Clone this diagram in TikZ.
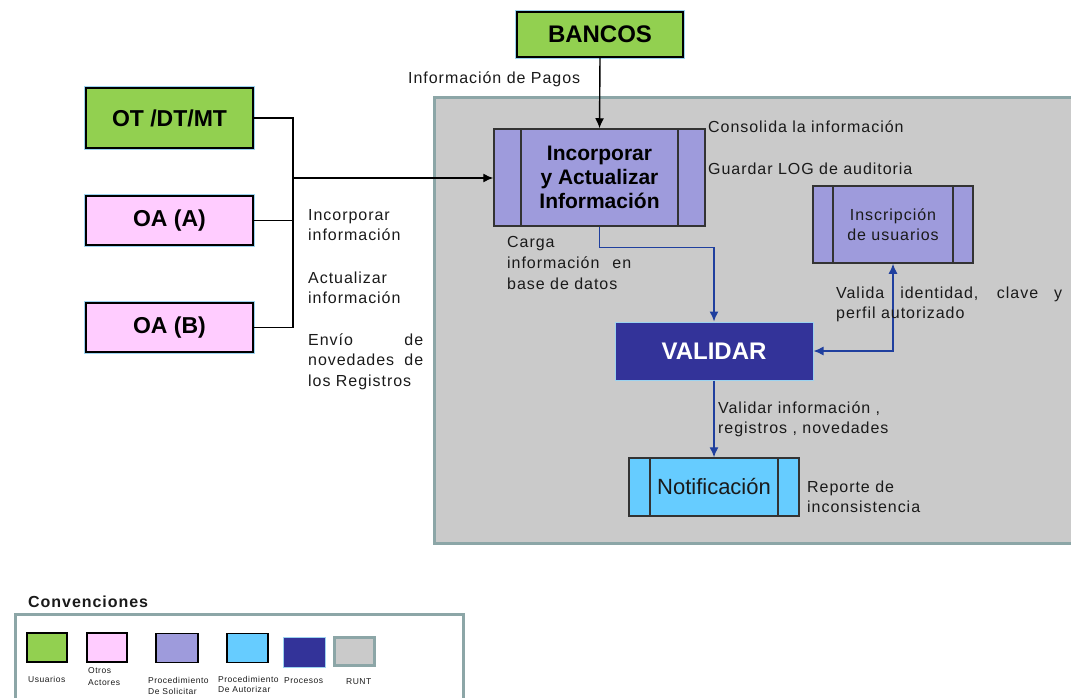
\documentclass[tikz,border=0pt]{standalone}
\usepackage{fontspec}
\setmainfont{Liberation Sans}[LetterSpace=6]
\newfontfamily\boxfont{Liberation Sans}
\usetikzlibrary{arrows.meta}

\definecolor{usrgreen}{HTML}{92D050}
\definecolor{actpink}{HTML}{FFCCFF}
\definecolor{solpurple}{HTML}{9E9BDC}
\definecolor{autblue}{HTML}{66CCFF}
\definecolor{procblue}{HTML}{333399}
\definecolor{runtgrey}{HTML}{CACACA}
\definecolor{runtedge}{HTML}{8CA6A7}
\definecolor{flowblue}{HTML}{1F3F9E}
\definecolor{haloblue}{HTML}{9CD3F0}
\definecolor{inktext}{HTML}{1A1A1A}

\tikzset{
  actor/.style={draw=black, line width=1.5pt, inner sep=0pt,
    preaction={draw=haloblue, line width=3.5pt},
    font=\boxfont\bfseries\fontsize{23}{26}\selectfont},
  procbox/.style={draw=black!80, line width=1.5pt, inner sep=0pt,
    path picture={\draw[line width=1.5pt, black!80]
      ([xshift=#1]path picture bounding box.north west) -- ([xshift=#1]path picture bounding box.south west)
      ([xshift=-#1]path picture bounding box.north east) -- ([xshift=-#1]path picture bounding box.south east);}},
  txt/.style={inner sep=0pt, anchor=base west, text=inktext,
    font=\fontsize{16}{21}\selectfont},
  tinytxt/.style={inner sep=0pt, anchor=base west, text=inktext,
    font=\fontsize{8.5}{10}\selectfont},
  flowblk/.style={draw=black, line width=1.4pt},
  flowarrow/.style={draw=flowblue, line width=1.4pt},
  tipblk/.style={-{Latex[length=10pt,width=9pt]}},
  tipblue/.style={-{Latex[length=10pt,width=9pt]}},
  swatch/.style={draw=black, line width=1.8pt, inner sep=0pt, minimum width=40pt, minimum height=29pt},
}

\begin{document}
\begin{tikzpicture}[x=1pt, y=-1pt]
\useasboundingbox (0,0) rectangle (1071,698);
\begin{scope}
\clip (0,0) rectangle (1071,698);

% RUNT region
\draw[fill=runtgrey, draw=runtedge, line width=3pt] (434,98) rectangle (1085,543);

% external actors
\node[actor, fill=usrgreen, minimum width=166pt, minimum height=45pt, font=\boxfont\bfseries\fontsize{24}{26}\selectfont]
  (bancos) at (600,34.5) {BANCOS};
\node[actor, fill=usrgreen, minimum width=167pt, minimum height=60pt] (ot) at (169.5,118) {OT /DT/MT};
\node[actor, fill=actpink, minimum width=167pt, minimum height=49pt] (oaa) at (169.5,220.5) {OA (A)};
\node[actor, fill=actpink, minimum width=167pt, minimum height=49pt] (oab) at (169.5,327.5) {OA (B)};

% processes
\node[procbox=27pt, fill=solpurple, minimum width=211pt, minimum height=97pt, align=center,
  font=\boxfont\bfseries\fontsize{21}{24}\selectfont] (incorp) at (599.5,177.5)
  {Incorporar\\y Actualizar\\Información};
\node[procbox=20pt, fill=solpurple, minimum width=160pt, minimum height=77pt, align=center,
  text=inktext, font=\fontsize{16}{20}\selectfont] (inscr) at (893,224.5) {Inscripción\\de usuarios};
\node[draw=haloblue, line width=1pt, fill=procblue, minimum width=198pt, minimum height=58pt, inner sep=0pt,
  text=white, font=\boxfont\bfseries\fontsize{24}{26}\selectfont] (validar) at (714,351) {VALIDAR};
\node[procbox=21pt, fill=autblue, minimum width=170pt, minimum height=58pt,
  text=inktext, font=\boxfont\fontsize{22}{24}\selectfont] (notif) at (714,487) {Notificación};

% connectors
\coordinate (join) at (293,178);
\draw[flowblk, tipblk] (bancos.south) -- (incorp.north);
\draw[flowblk] (ot.east) -| (join);
\draw[flowblk] (oaa.east) -| (join);
\draw[flowblk] (oab.east) -| (join);
\draw[flowblk, tipblk] (join) -- (incorp.west |- join);
\draw[flowarrow, tipblue] (incorp.south) -- ++(0,21) -| (validar.north);
\draw[flowarrow, {Latex[length=10pt,width=9pt]}-{Latex[length=10pt,width=9pt]}] (validar.east) -| (inscr.south);
\draw[flowarrow, tipblue] (validar.south) -- (notif.north);

% annotations
\node[txt] (pagos) at (408,84) {Información de Pagos};
\node[txt] (consol) at (708,133) {Consolida la información};
\node[txt] (guardar) at (708,175) {Guardar LOG de auditoria};
\node[txt] (carga1) at (507,247) {Carga};
\node[txt] (carga2) at (507,268) {\makebox[124pt][s]{información en}};
\node[txt] (carga3) at (507,289) {base de datos};
\node[txt] (valida1) at (836,298) {\makebox[226pt][s]{Valida identidad, clave y}};
\node[txt] (valida2) at (836,318) {perfil autorizado};
\node[txt] (vinfo1) at (718,413) {Validar información ,};
\node[txt] (vinfo2) at (718,433) {registros , novedades};
\node[txt] (rep1) at (807,492) {Reporte de};
\node[txt] (rep2) at (807,512) {inconsistencia};
\node[txt] (inc1) at (308,220) {Incorporar};
\node[txt] (inc2) at (308,240) {información};
\node[txt] (act1) at (308,283) {Actualizar};
\node[txt] (act2) at (308,303) {información};
\node[txt] (env1) at (308,345) {\makebox[115pt][s]{Envío de}};
\node[txt] (env2) at (308,365) {\makebox[115pt][s]{novedades de}};
\node[txt] (env3) at (308,386) {los Registros};

% legend
\node[txt, font=\bfseries\fontsize{16}{20}\selectfont] (conv) at (28,607) {Convenciones};
\draw[draw=runtedge, line width=3pt, fill=white] (15,614) rectangle (463,720);
\node[swatch, fill=usrgreen] (swusr) at (47,647.5) {};
\node[swatch, fill=actpink] (swact) at (107,647.5) {};
\node[swatch, fill=solpurple, minimum width=42pt] (swsol) at (177,648) {};
\node[swatch, fill=autblue, minimum width=41pt] (swaut) at (247.5,648) {};
\node[swatch, draw=haloblue, line width=1pt, fill=procblue, minimum width=42pt, minimum height=30pt] (swproc) at (304,652) {};
\node[swatch, draw=runtedge, line width=3pt, fill=runtgrey, minimum width=40pt, minimum height=28pt] (swrunt) at (354.5,651.5) {};
\node[tinytxt] (lusr) at (28,682) {Usuarios};
\node[tinytxt] (lact1) at (88,673) {Otros};
\node[tinytxt] (lact2) at (88,685) {Actores};
\node[tinytxt] (lsol1) at (148,683) {Procedimiento};
\node[tinytxt] (lsol2) at (148,694) {De Solicitar};
\node[tinytxt] (laut1) at (218,682) {Procedimiento};
\node[tinytxt] (laut2) at (218,692) {De Autorizar};
\node[tinytxt] (lproc) at (284,683) {Procesos};
\node[tinytxt] (lrunt) at (346,684) {RUNT};
\end{scope}
\end{tikzpicture}
\end{document}
